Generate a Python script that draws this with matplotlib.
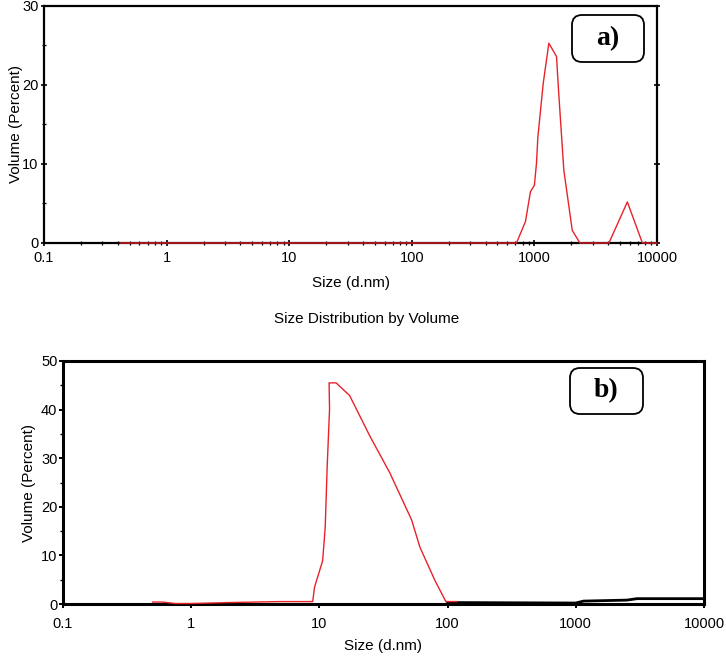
import matplotlib.pyplot as plt
from matplotlib.patches import FancyBboxPatch
from matplotlib.ticker import LogLocator, FixedLocator, NullFormatter

plt.rcParams['font.family'] = ['Liberation Sans', 'DejaVu Sans']

# panel a) size distribution by volume
size_a = [0.42, 714, 845, 929, 1000, 1040, 1067, 1180, 1312, 1515, 1580, 1738,
          2036, 2350, 4055, 5730, 7600, 10000]
vol_a = [0, 0, 2.7, 6.5, 7.3, 10.1, 13.4, 20.2, 25.3, 23.6, 18.9, 9.2,
         1.6, 0, 0, 5.2, 0, 0]

# panel b)
size_b = [0.5, 0.6, 0.75, 1.0, 2.0, 5.0, 8.87, 9.15, 10.6, 11.1, 11.5, 12.0,
          11.9, 13.5, 17.2, 24.7, 35.4, 52.4, 60.8, 79.8, 96.9, 118]
vol_b = [0.4, 0.4, 0.1, 0.1, 0.3, 0.5, 0.5, 3.4, 8.9, 15.8, 28.3, 40.1,
         45.5, 45.5, 42.9, 34.6, 27.0, 17.3, 11.7, 4.8, 0.5, 0.5]
# hand drawn baseline of panel b
base_size = [100, 1000, 1150, 2500, 3000, 10000]
base_vol = [0.3, 0.2, 0.6, 0.8, 1.1, 1.1]

xticks = [0.1, 1, 10, 100, 1000, 10000]
xlabels = ['0.1', '1', '10', '100', '1000', '10000']

W, H = 726, 657
fig = plt.figure(figsize=(W / 100, H / 100), dpi=100)


def px_axes(l, t, r, b):
    return fig.add_axes([l / W, 1 - b / H, (r - l) / W, (b - t) / H])


def label_box(x0, y0, x1, y1, txt):
    box = FancyBboxPatch((x0 / 100, (H - y1) / 100), (x1 - x0) / 100, (y1 - y0) / 100,
                         boxstyle='round,pad=0,rounding_size=0.1',
                         transform=fig.dpi_scale_trans, fc='white', ec='black', lw=1.3,
                         zorder=5)
    fig.add_artist(box)
    fig.text((x0 + x1) / 2 / W, 1 - (y0 + y1) / 2 / H, txt, ha='center', va='center',
             family='Liberation Serif', weight='bold', fontsize=20, zorder=6)


# ---- top panel
ax = px_axes(44, 6, 657, 243)
ax.plot(size_a, vol_a, color='#e8222a', lw=1.0, zorder=4, clip_on=False)
ax.set_xscale('log')
ax.set_xlim(0.1, 10000)
ax.set_ylim(0, 30)
ax.set_xticks(xticks)
ax.set_xticklabels(xlabels)
ax.xaxis.set_minor_locator(LogLocator(base=10, subs=range(2, 10)))
ax.xaxis.set_minor_formatter(NullFormatter())
ax.set_yticks([0, 10, 20, 30])
ax.yaxis.set_minor_locator(FixedLocator([5, 15, 25]))
ax.tick_params(axis='both', which='major', labelsize=10.5, length=4, width=1.2,
               direction='inout')
ax.tick_params(axis='x', which='major', pad=4)
ax.tick_params(axis='y', which='major', pad=2, right=True)
ax.tick_params(axis='both', which='minor', length=3.5, width=0.9, direction='inout')
for s in ax.spines.values():
    s.set_linewidth(1.6)
ax.set_xlabel('Size (d.nm)', fontsize=11, labelpad=8)
ax.set_ylabel('Volume (Percent)', fontsize=11, labelpad=-1)
fig.text(367 / W, 1 - 319 / H, 'Size Distribution by Volume', ha='center', va='center',
         fontsize=11)
label_box(572, 15, 644, 62, 'a)')

# ---- bottom panel
bx = px_axes(63, 361, 704, 604)
bx.plot(base_size, base_vol, color='black', lw=2.0, zorder=3, clip_on=False)
bx.plot(size_b, vol_b, color='#e8222a', lw=1.0, zorder=4, clip_on=False)
bx.set_xscale('log')
bx.set_xlim(0.1, 10000)
bx.set_ylim(0, 50)
bx.set_xticks(xticks)
bx.set_xticklabels(xlabels)
bx.xaxis.set_minor_locator(FixedLocator([]))
bx.set_yticks([0, 10, 20, 30, 40, 50])
bx.yaxis.set_minor_locator(FixedLocator([5, 15, 25, 35, 45]))
bx.tick_params(axis='both', which='major', labelsize=10.5, length=3, width=1.4,
               direction='out')
bx.tick_params(axis='x', which='major', pad=6)
bx.tick_params(axis='y', which='major', pad=1)
bx.tick_params(axis='y', which='minor', length=2, width=1.0, direction='out')
for s in bx.spines.values():
    s.set_linewidth(2.2)
bx.set_xlabel('Size (d.nm)', fontsize=11, labelpad=6)
bx.set_ylabel('Volume (Percent)', fontsize=11, labelpad=4)
label_box(570, 368, 643, 414, 'b)')

fig.savefig('out.png', dpi=100)
